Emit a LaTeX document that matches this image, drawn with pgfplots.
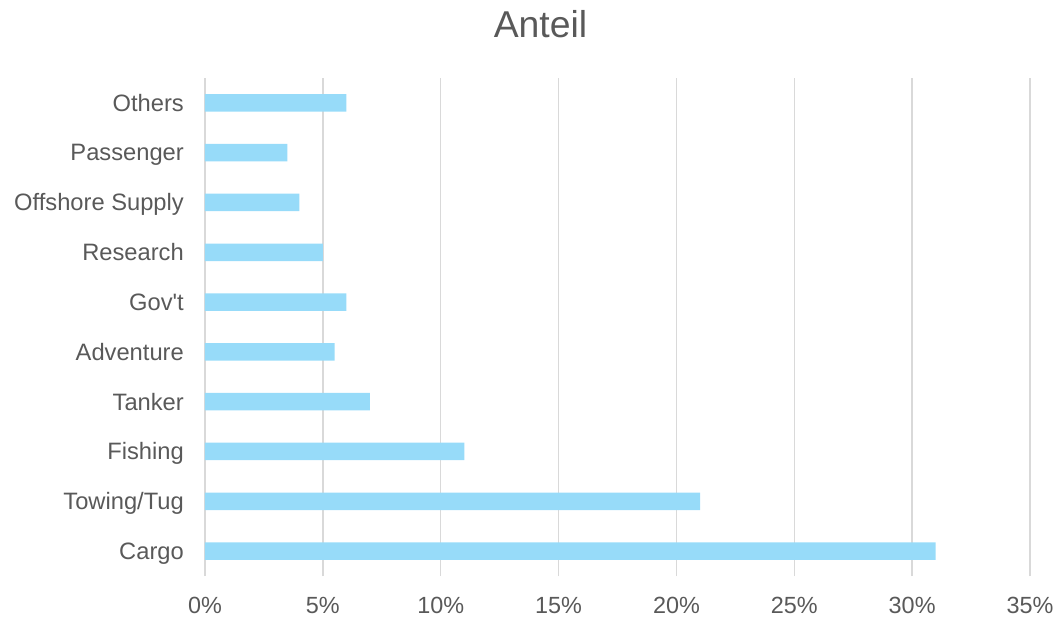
\documentclass[border=0pt]{standalone}
\usepackage{fontspec}
\setmainfont{Liberation Sans}
\usepackage{pgfplots}
\pgfplotsset{compat=1.18}
\definecolor{barblue}{RGB}{151,219,249}
\definecolor{txtgray}{RGB}{89,89,89}
\definecolor{gridgray}{RGB}{217,217,217}
\begin{document}
\begin{tikzpicture}
\useasboundingbox (-205bp,-41bp) rectangle (851bp,576bp);
\begin{axis}[
  at={(0,0)}, anchor=south west,
  scale only axis,
  width=825bp, height=498bp,
  xbar,
  bar width=17.5bp,
  xmin=0, xmax=35,
  ymin=-0.5, ymax=9.5,
  enlargelimits=false,
  xtick={0,5,10,15,20,25,30,35},
  xticklabels={0\%,5\%,10\%,15\%,20\%,25\%,30\%,35\%},
  ytick={0,1,2,3,4,5,6,7,8,9},
  yticklabels={Cargo,Towing/Tug,Fishing,Tanker,Adventure,Gov\textquotesingle t,Research,Offshore Supply,Passenger,Others},
  xmajorgrids,
  major grid style={draw=gridgray, line width=1.3bp},
  axis line style={draw=none},
  major tick style={draw=none},
  tick align=inside,
  xticklabel style={font=\fontsize{23.5}{27}\selectfont, text=txtgray, anchor=base, yshift=-37bp, inner sep=0pt},
  yticklabel style={font=\fontsize{23.8}{27}\selectfont, text=txtgray, anchor=base east, xshift=-21bp, yshift=-8.3bp, inner sep=0pt},
  title={Anteil},
  title style={font=\fontsize{37.5}{42}\selectfont, text=txtgray, at={(0.5,1)}, anchor=base, xshift=-77bp, yshift=35bp},
]
\addplot[fill=barblue, draw=none] coordinates {
  (31,0) (21,1) (11,2) (7,3) (5.5,4) (6,5) (5,6) (4,7) (3.5,8) (6,9)
};
\end{axis}
\end{tikzpicture}
\end{document}
